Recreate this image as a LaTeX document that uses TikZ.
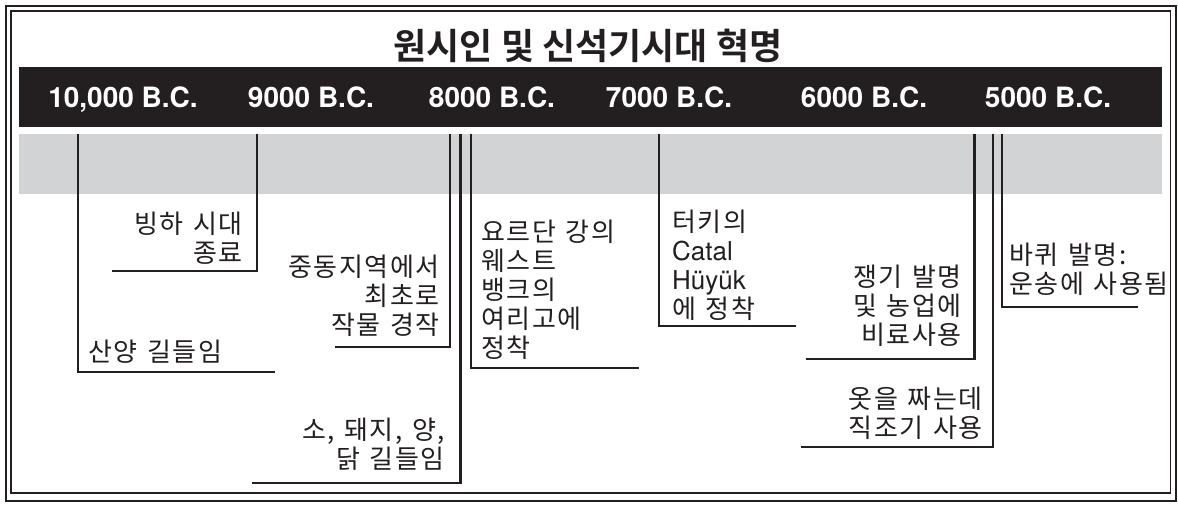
\documentclass[tikz,border=0pt]{standalone}
\usepackage{fontspec}
\usetikzlibrary{positioning}
\newfontfamily\krfont{Noto Sans CJK KR}[BoldFont={Noto Sans CJK KR Bold}]
\newfontfamily\krtext{Noto Sans CJK KR}[LetterSpace=6, WordSpace=1.3]
\newfontfamily\helv{TeX Gyre Heros}
\definecolor{ink}{HTML}{231F20}
\definecolor{bandgray}{HTML}{D1D3D4}

\begin{document}
\begin{tikzpicture}[x=1pt,y=-1pt]

	\tikzset{kr/.style={inner sep=0pt, text=ink,
			font=\krtext\fontsize{26}{29}\selectfont},
		year/.style={inner sep=0pt, anchor=base, text=white,
			font=\helv\bfseries\fontsize{28}{30}\selectfont},
		leader/.style={draw=ink, line width=2.6pt}}

	\useasboundingbox (0,0) rectangle (1178,504);
	\draw[ink, line width=2pt] (5.5,5.5) rectangle (1175.5,500.5);
	\draw[ink, line width=1.4pt] (11,11) rectangle (1170.5,493);

	\node[inner sep=0pt, text=ink, font=\krfont\bfseries\fontsize{36}{40}\selectfont] (title) at (588,46) {원시인 및 신석기시대 혁명};

	\fill[ink] (19,67) rectangle (1162,127);
	\fill[bandgray] (19,134) rectangle (1162,194);

	\foreach \x/\t [count=\i] in {123/{10,000 B.C.}, 311/{9000 B.C.}, 492/{8000 B.C.},
		669/{7000 B.C.}, 864/{6000 B.C.}, 1048/{5000 B.C.}}
	\node[year] (yr\i) at (\x,107) {\t};

	\node[kr, anchor=north west] (goat) at (88,340) {산양 길들임};
	\node[kr, anchor=north east, align=right] (ice) at (243,212) {빙하 시대\\종료};
	\node[kr, anchor=north east, align=right] (crops) at (440,255) {중동지역에서\\최초로\\작물 경작};
	\node[kr, anchor=north east, align=right] (cattle) at (445,418) {소, 돼지, 양,\\닭 길들임};
	\node[kr, anchor=north west, align=left] (jericho) at (481,220) {요르단 강의\\웨스트\\뱅크의\\여리고에\\정착};
	\node[kr, anchor=north west, align=left] (catal) at (672,210) {터키의\\{\helv Catal}\\{\helv Hüyük}\\에 정착};
	\node[kr, anchor=north east, align=right] (plough) at (962,265) {쟁기 발명\\및 농업에\\비료사용};
	\node[kr, anchor=north east, align=right] (loom) at (983,387) {옷을 짜는데\\직조기 사용};
	\node[kr, anchor=north west, align=left] (wheel) at (1009,243) {바퀴 발명:\\운송에 사용됨};

	\coordinate (t1) at (78,134);    \coordinate (e1) at (275,372);
	\coordinate (t2) at (257,134);   \coordinate (e2) at (112,271);
	\coordinate (t3) at (450,134);   \coordinate (e3) at (335,347);
	\coordinate (t4) at (460.5,134); \coordinate (e4) at (252,483);
	\coordinate (t5) at (471,134);   \coordinate (e5) at (639,368);
	\coordinate (t6) at (659,134);   \coordinate (e6) at (796,326);
	\coordinate (t7) at (974.5,134); \coordinate (e7) at (806,359);
	\coordinate (t8) at (993,134);   \coordinate (e8) at (801,447);
	\coordinate (t9) at (1002,134);  \coordinate (e9) at (1138,307);

	\foreach \i in {1,...,9}
	\draw[leader] (t\i) |- (e\i);

\end{tikzpicture}
\end{document}
